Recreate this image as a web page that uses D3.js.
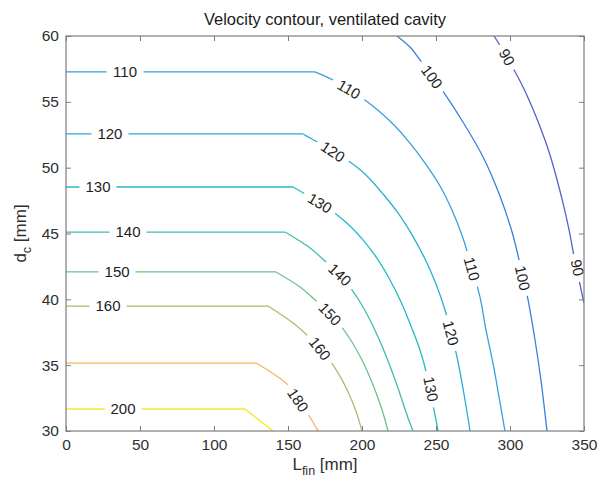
<!DOCTYPE html>
<html><head><meta charset="utf-8">
<script src="https://cdn.jsdelivr.net/npm/d3@7"></script>
<style>
body{margin:0;background:#fff}
text{font-family:"Liberation Sans",Arial,Helvetica,sans-serif}
</style>
</head><body>
<svg id="chart" width="606" height="480"></svg>
<script>
// ---------------- data ----------------
const titleText = "Velocity contour, ventilated cavity";
const xTicks = [0, 50, 100, 150, 200, 250, 300, 350];
const yTicks = [30, 35, 40, 45, 50, 55, 60];
const levels = [90, 100, 110, 120, 130, 140, 150, 160, 180, 200];
const levelColors = ["#5561c9", "#3b80dc", "#399fde", "#29aed6", "#24b9c7",
                     "#3bbfad", "#6fc18f", "#a6bf72", "#f3b65c", "#f4ea2a"];

// contour lines, [L_fin, d_c] points
const c90  = [[289.2,60],[295.9,58.78],[302.0,57.57],[308.8,56.13],[314.9,54.61],[320.9,52.94],[326.4,51.19],[331.1,49.37],[335.8,47.32],[339.9,45.27],[343.2,43.29],[346.6,41.47],[350,39.72]];
const c100 = [[223.6,60],[232.4,59.16],[239.2,58.18],[247.3,56.96],[254.7,55.82],[268.2,53.47],[281.8,50.81],[293.2,47.85],[301.4,45.11],[307.4,42.38],[312.2,39.95],[316.9,36.91],[320.9,33.87],[325.0,30]];
const c110 = [[0,57.27],[168.2,57.27],[180.4,56.66],[191.9,55.90],[202.0,55.14],[212.2,54.23],[222.3,53.16],[232.4,51.87],[242.6,50.35],[252.7,48.61],[260.8,46.78],[268.2,44.66],[274.3,42.38],[279.7,40.18],[283.8,37.67],[288.5,35.16],[292.6,32.58],[296.6,30]];
const c120 = [[0,52.56],[160.1,52.56],[166.2,52.18],[180.4,51.27],[191.9,50.43],[202.0,49.52],[214.2,48.00],[224.3,46.56],[233.8,44.89],[242.6,43.06],[250.0,41.16],[256.1,39.19],[260.8,37.22],[264.9,35.24],[268.9,32.81],[273.0,30]];
const c130 = [[0,48.53],[153.4,48.53],[161.5,48.00],[171.6,47.32],[182.4,46.48],[191.9,45.57],[200.7,44.51],[209.5,43.22],[218.2,41.62],[226.4,39.80],[233.1,37.97],[239.2,36.15],[243.9,34.25],[247.3,32.35],[250.0,30.84],[251.4,30]];
const c140 = [[0,45.11],[148.0,45.11],[156.8,44.51],[164.9,43.90],[175.0,42.91],[185.1,41.85],[193.2,40.71],[200.7,39.42],[207.4,37.97],[213.5,36.46],[218.9,34.94],[223.6,33.49],[227.7,32.13],[231.1,30.99],[234.5,30]];
const c150 = [[0,42.08],[141.9,42.08],[158.1,40.94],[167.6,40.03],[177.0,39.04],[185.8,37.97],[193.2,36.76],[200.0,35.39],[206.1,33.87],[210.8,32.51],[214.2,31.37],[217.6,30]];
const c160 = [[0,39.49],[136.5,39.49],[153.4,38.20],[163.5,37.22],[171.6,36.30],[179.1,35.24],[185.8,34.03],[191.2,32.81],[195.9,31.52],[200.0,30]];
const c180 = [[0,35.16],[128.4,35.16],[150.0,33.49],[156.8,32.35],[163.5,31.29],[170.3,30]];
const c200 = [[0,31.67],[120.9,31.67],[139.9,30]];
const contourLines = [c90, c100, c110, c120, c130, c140, c150, c160, c180, c200];

// inline labels: [level, L_fin, d_c]
const contourLabels = [
  [110, 39.9, 57.27], [120, 29.7, 52.56], [130, 21.6, 48.53], [140, 41.9, 45.11],
  [150, 34.5, 42.08], [160, 28.4, 39.49], [200, 38.5, 31.67],
  [110, 191.2, 55.95], [120, 180.4, 51.22], [130, 171.6, 47.32], [140, 185.1, 41.88],
  [150, 178.4, 38.89], [160, 171.6, 36.25], [180, 156.8, 32.35],
  [100, 247.3, 56.90], [90, 298.0, 58.40],
  [110, 274.3, 42.32], [100, 308.6, 41.62], [90, 345.6, 42.40],
  [120, 260.1, 37.44], [130, 246.6, 33.19]
];

// ---------------- drawing ----------------
const svg = d3.select("#chart");
const L = 66, R = 584, T = 36, B = 431;
const x = d3.scaleLinear().domain([0, 350]).range([L, R]);
const y = d3.scaleLinear().domain([30, 60]).range([B, T]);
const axisCol = "#7d7d7d", textCol = "#303030";

svg.append("defs").append("clipPath").attr("id", "clip")
  .append("rect").attr("x", L).attr("y", T).attr("width", R - L).attr("height", B - T);

const straight = d3.line().x(d => x(d[0])).y(d => y(d[1]));
const smooth = d3.line().x(d => x(d[0])).y(d => y(d[1])).curve(d3.curveCatmullRom.alpha(0.5));
const gLines = svg.append("g").attr("clip-path", "url(#clip)");
contourLines.forEach((pts, i) => {
  // flat part (constant d_c) is straight; the bending part is smoothed
  let k = 0;
  while (k + 1 < pts.length && pts[k + 1][1] === pts[0][1]) k++;
  const parts = [];
  if (k > 0) parts.push(straight(pts.slice(0, k + 1)));
  parts.push((pts.length - k > 2 ? smooth : straight)(pts.slice(k)));
  gLines.append("path").attr("d", parts.join(" ")).attr("fill", "none")
    .attr("stroke", levelColors[i]).attr("stroke-width", 1.3).attr("stroke-linejoin", "round");
});

// labels with gaps
const gLab = svg.append("g");
contourLabels.forEach(([lev, lx, ly]) => {
  const pts = contourLines[levels.indexOf(lev)].map(p => [x(p[0]), y(p[1])]);
  const px = x(lx), py = y(ly);
  let best = 0, bd = Infinity;
  for (let i = 0; i < pts.length - 1; i++) {
    const [ax, ay] = pts[i], [bx, by] = pts[i + 1];
    const dx = bx - ax, dy = by - ay;
    let t = ((px - ax) * dx + (py - ay) * dy) / (dx * dx + dy * dy);
    t = Math.max(0, Math.min(1, t));
    const d = Math.hypot(ax + t * dx - px, ay + t * dy - py);
    if (d < bd) { bd = d; best = i; }
  }
  const [ax, ay] = pts[best], [bx, by] = pts[best + 1];
  let ang = Math.atan2(by - ay, bx - ax) * 180 / Math.PI;
  if (ang > 90) ang -= 180;
  if (ang < -90) ang += 180;
  const g = gLab.append("g").attr("transform", `translate(${px},${py}) rotate(${ang})`);
  const label = String(lev);
  const w = label.length * 8.3 + 12;
  g.append("rect").attr("x", -w / 2).attr("y", -7).attr("width", w).attr("height", 14).attr("fill", "#fff");
  g.append("text").attr("text-anchor", "middle").attr("dy", "0.36em")
    .attr("font-size", 15).attr("fill", "#1e1e1e").text(label);
});

// axes
function styleAxis(g, showText) {
  g.select(".domain").remove();
  g.selectAll(".tick line").attr("stroke", axisCol);
  g.selectAll(".tick text").attr("fill", textCol).attr("font-size", 15.5)
    .attr("font-family", "Liberation Sans, Arial, sans-serif");
  if (!showText) g.selectAll(".tick text").remove();
}
svg.append("g").attr("transform", `translate(0,${B})`)
  .call(d3.axisBottom(x).tickValues(xTicks).tickFormat(d3.format("d")).tickSize(-5).tickPadding(8))
  .call(g => styleAxis(g, true));
svg.append("g").attr("transform", `translate(0,${T})`)
  .call(d3.axisTop(x).tickValues(xTicks).tickSize(-5))
  .call(g => styleAxis(g, false));
svg.append("g").attr("transform", `translate(${L},0)`)
  .call(d3.axisLeft(y).tickValues(yTicks).tickFormat(d3.format("d")).tickSize(-5).tickPadding(7))
  .call(g => styleAxis(g, true));
svg.append("g").attr("transform", `translate(${R},0)`)
  .call(d3.axisRight(y).tickValues(yTicks).tickSize(-5))
  .call(g => styleAxis(g, false));

svg.append("rect").attr("x", L).attr("y", T).attr("width", R - L).attr("height", B - T)
  .attr("fill", "none").attr("stroke", axisCol).attr("stroke-width", 1.2);

// title
svg.append("text").attr("x", (L + R) / 2).attr("y", 25).attr("text-anchor", "middle")
  .attr("font-size", 16.5).attr("fill", "#1a1a1a").text(titleText);

// x label
const xl = svg.append("text").attr("x", (L + R) / 2).attr("y", 470).attr("text-anchor", "middle")
  .attr("font-size", 17).attr("fill", textCol);
xl.append("tspan").text("L");
xl.append("tspan").attr("font-size", 12.5).attr("dy", 5).text("fin");
xl.append("tspan").attr("dy", -5).text(" [mm]");

// y label
const yl = svg.append("text").attr("transform", `translate(26,${(T + B) / 2}) rotate(-90)`)
  .attr("text-anchor", "middle").attr("font-size", 17).attr("fill", textCol);
yl.append("tspan").text("d");
yl.append("tspan").attr("font-size", 12.5).attr("dy", 5).text("c");
yl.append("tspan").attr("dy", -5).text(" [mm]");
</script>
</body></html>
